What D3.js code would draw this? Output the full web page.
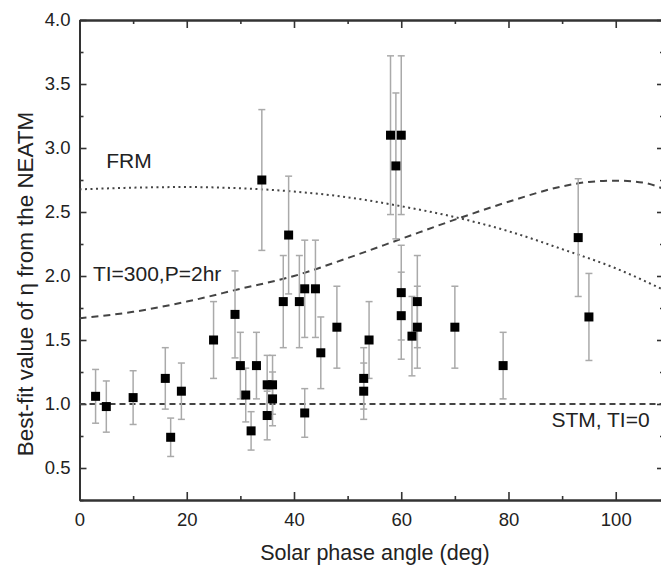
<!DOCTYPE html>
<html><head><meta charset="utf-8">
<script src="https://cdn.jsdelivr.net/npm/d3@7"></script>
<style>body{margin:0;background:#fff}svg{display:block}text{font-family:"Liberation Sans",Arial,sans-serif;fill:#222}</style>
</head><body><div id="chart"></div>
<script>
// Data
const phaseAngle = [3,5,10,16,17,19,25,29,30,31,32,33,34,35,35,36,36,38,39,41,42,42,44,45,48,53,53,54,58,59,60,60,60,62,63,63,70,79,93,95];
const etaValue   = [1.06,0.98,1.05,1.20,0.74,1.10,1.50,1.70,1.30,1.07,0.79,1.30,2.75,1.15,0.91,1.15,1.04,1.80,2.32,1.80,1.90,0.93,1.90,1.40,1.60,1.20,1.10,1.50,3.10,2.86,3.10,1.87,1.69,1.53,1.80,1.60,1.60,1.30,2.30,1.68];
const etaError   = [0.21,0.20,0.21,0.24,0.15,0.22,0.30,0.34,0.26,0.21,0.15,0.26,0.55,0.23,0.19,0.23,0.21,0.36,0.46,0.36,0.38,0.19,0.38,0.28,0.32,0.24,0.22,0.30,0.62,0.57,0.62,0.37,0.34,0.31,0.36,0.32,0.32,0.26,0.46,0.34];

const tpmX = [0,10,20,30,40,50,60,70,80,90,95,100,105,109];
const tpmY = [1.67,1.72,1.80,1.90,2.00,2.14,2.29,2.44,2.58,2.70,2.735,2.745,2.73,2.68];
const frmX = [0,10,20,30,40,50,60,70,80,90,100,109];
const frmY = [2.677,2.69,2.695,2.685,2.66,2.615,2.545,2.46,2.35,2.21,2.06,1.89];
const stmY = 1.0;

const xMajor = [0,20,40,60,80,100];
const xMinor = [10,30,50,70,90];
const yMajor = [0.5,1.0,1.5,2.0,2.5,3.0,3.5,4.0];
const yMinor = [0.25,0.75,1.25,1.75,2.25,2.75,3.25,3.75];

const labels = [
  {text:"FRM", x:5, y:2.84},
  {text:"TI=300,P=2hr", x:2.5, y:1.96},
  {text:"STM, TI=0", x:88, y:0.82}
];

const W = 661, H = 569;
const svg = d3.select("#chart").append("svg").attr("width", W).attr("height", H);
const x = d3.scaleLinear().domain([0,109]).range([79.5,664]);
const y = d3.scaleLinear().domain([0.25,4]).range([500,20]);
const axisColor = "#333";

function styleAxis(g){
  g.select(".domain").attr("stroke", axisColor).attr("stroke-width", 2);
  g.selectAll(".tick line").attr("stroke", axisColor).attr("stroke-width", 1.6);
  g.selectAll(".tick text").style("font-size","18.5px").attr("fill","#222");
}

// Bottom
svg.append("g").attr("transform","translate(0,500)")
  .call(d3.axisBottom(x).tickValues(xMajor).tickSize(-8).tickSizeOuter(0).tickPadding(13).tickFormat(d3.format("d")))
  .call(styleAxis);
svg.append("g").attr("transform","translate(0,500)")
  .call(d3.axisBottom(x).tickValues(xMinor).tickSize(-4).tickSizeOuter(0).tickFormat(""))
  .call(styleAxis);
// Top
svg.append("g").attr("transform","translate(0,20)")
  .call(d3.axisTop(x).tickValues(xMajor).tickSize(-8).tickSizeOuter(0).tickFormat(""))
  .call(styleAxis);
svg.append("g").attr("transform","translate(0,20)")
  .call(d3.axisTop(x).tickValues(xMinor).tickSize(-4).tickSizeOuter(0).tickFormat(""))
  .call(styleAxis);
// Left
svg.append("g").attr("transform","translate(79.5,0)")
  .call(d3.axisLeft(y).tickValues(yMajor).tickSize(-7).tickSizeOuter(0).tickPadding(9).tickFormat(d3.format(".1f")))
  .call(styleAxis);
svg.append("g").attr("transform","translate(79.5,0)")
  .call(d3.axisLeft(y).tickValues(yMinor).tickSize(-4).tickSizeOuter(0).tickFormat(""))
  .call(styleAxis);
// Right
svg.append("g").attr("transform","translate(664,0)")
  .call(d3.axisRight(y).tickValues(yMajor).tickSize(-7).tickSizeOuter(0).tickFormat(""))
  .call(styleAxis);
svg.append("g").attr("transform","translate(664,0)")
  .call(d3.axisRight(y).tickValues(yMinor).tickSize(-4).tickSizeOuter(0).tickFormat(""))
  .call(styleAxis);

// Model curves
const line = d3.line().x(d=>x(d[0])).y(d=>y(d[1])).curve(d3.curveMonotoneX);
svg.append("path").datum(tpmX.map((v,i)=>[v,tpmY[i]])).attr("d",line)
  .attr("fill","none").attr("stroke","#444").attr("stroke-width",2).attr("stroke-dasharray","7,5");
svg.append("path").datum(frmX.map((v,i)=>[v,frmY[i]])).attr("d",line)
  .attr("fill","none").attr("stroke","#444").attr("stroke-width",2).attr("stroke-dasharray","2,3.5");
svg.append("line").attr("x1",x(0)).attr("x2",x(109)).attr("y1",y(stmY)).attr("y2",y(stmY))
  .attr("stroke","#444").attr("stroke-width",2).attr("stroke-dasharray","6,4");

// Error bars
const pts = phaseAngle.map((v,i)=>({x:v,y:etaValue[i],e:etaError[i]}));
const eb = svg.append("g").attr("stroke","#aaa").attr("stroke-width",1.5);
pts.forEach(p=>{
  const cx = x(p.x), y1 = y(p.y+p.e), y2 = y(p.y-p.e);
  eb.append("line").attr("x1",cx).attr("x2",cx).attr("y1",y1).attr("y2",y2);
  eb.append("line").attr("x1",cx-3.5).attr("x2",cx+3.5).attr("y1",y1).attr("y2",y1);
  eb.append("line").attr("x1",cx-3.5).attr("x2",cx+3.5).attr("y1",y2).attr("y2",y2);
});
// Markers
svg.append("g").selectAll("rect").data(pts).join("rect")
  .attr("x",d=>x(d.x)-4.5).attr("y",d=>y(d.y)-4.5).attr("width",9).attr("height",9)
  .attr("fill","#000");

// Annotations
svg.append("g").selectAll("text").data(labels).join("text")
  .attr("x",d=>x(d.x)).attr("y",d=>y(d.y)).text(d=>d.text).style("font-size","21px");

// Axis titles
svg.append("text").attr("x",375).attr("y",560).attr("text-anchor","middle")
  .style("font-size","21.5px").text("Solar phase angle (deg)");
svg.append("text").attr("transform","translate(33,284) rotate(-90)").attr("text-anchor","middle")
  .style("font-size","22.4px").text("Best-fit value of η from the NEATM");
</script></body></html>
